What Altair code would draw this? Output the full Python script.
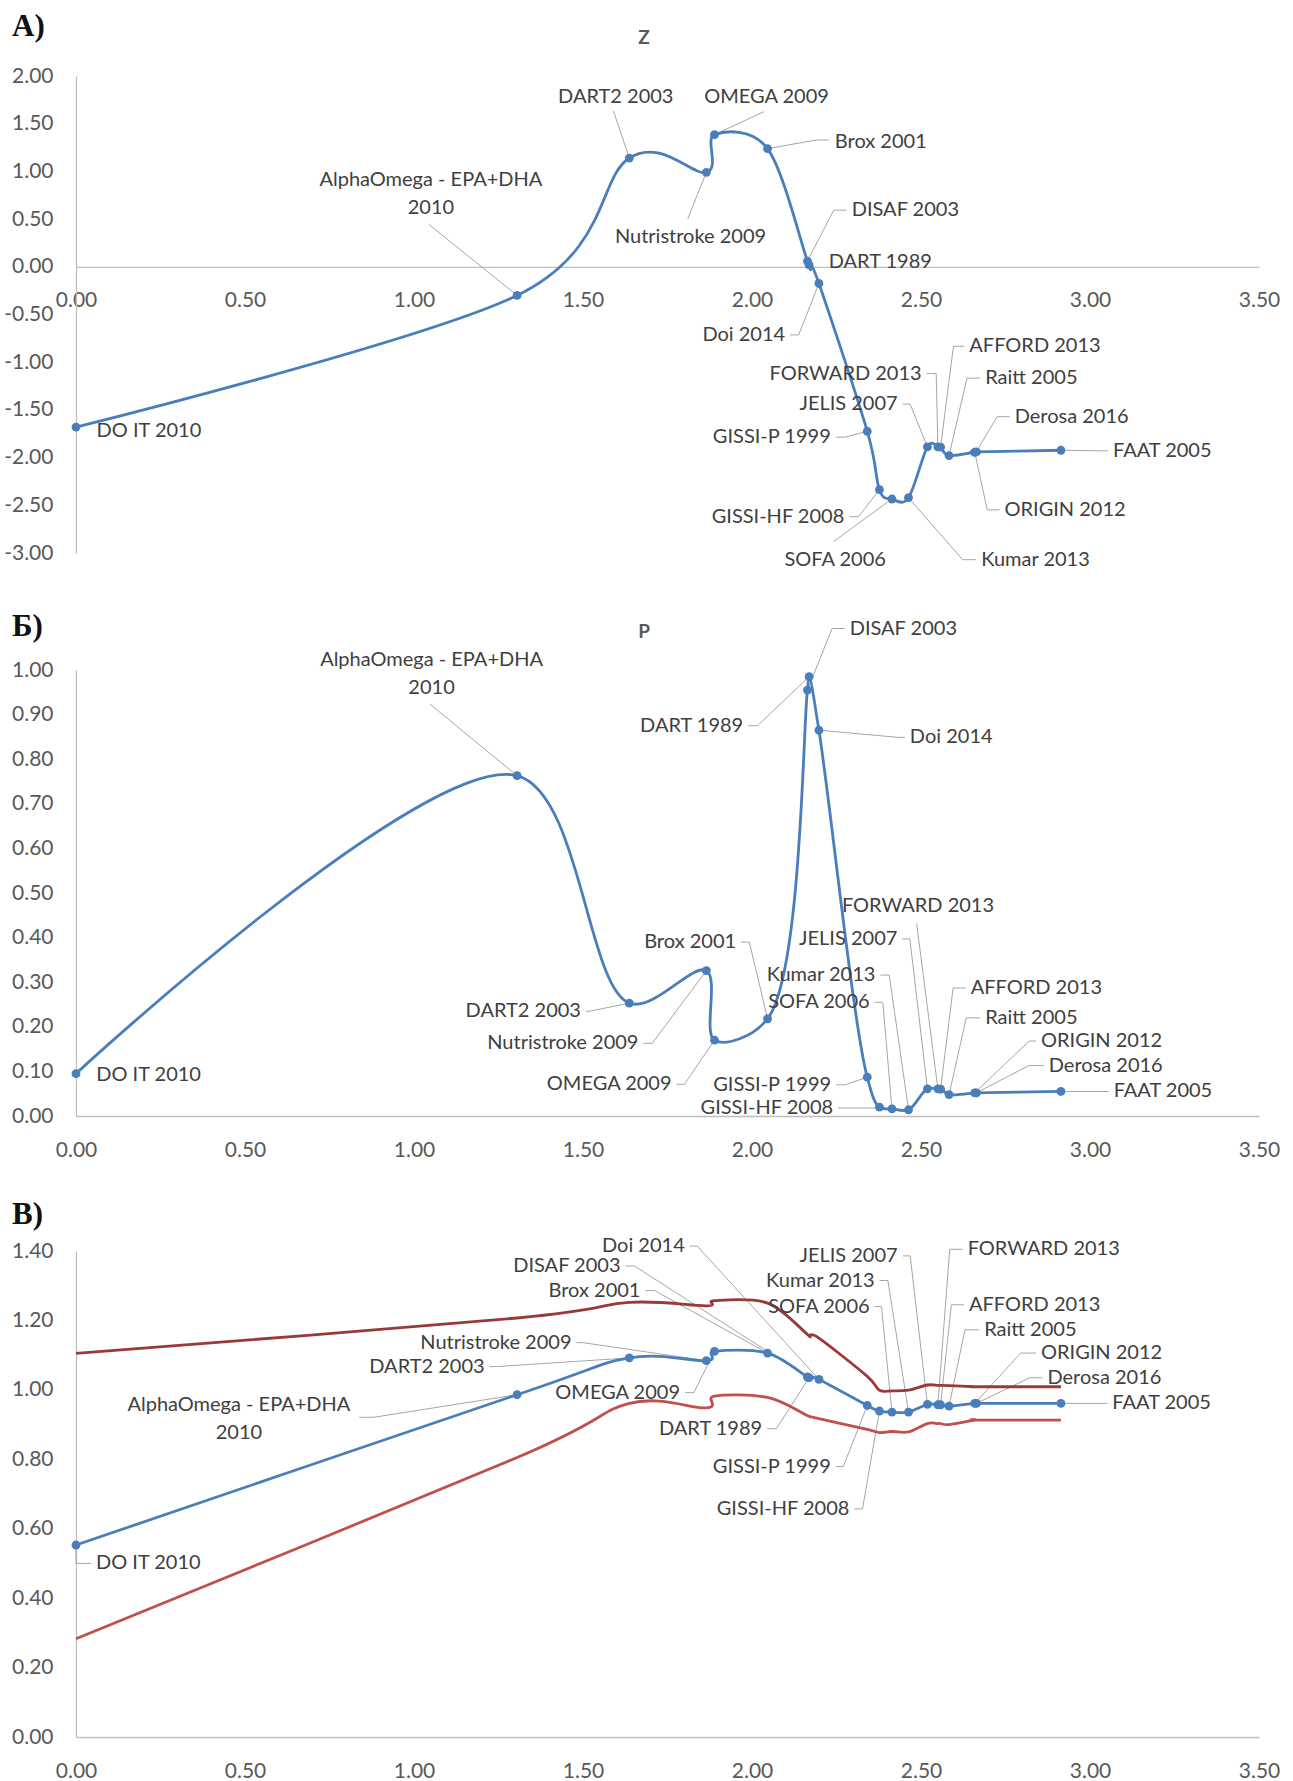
import altair as alt
import pandas as pd

# ---- data -------------------------------------------------------------
studies = [
    "DO IT 2010", "AlphaOmega - EPA+DHA 2010", "DART2 2003", "Nutristroke 2009",
    "OMEGA 2009", "Brox 2001", "DISAF 2003", "DART 1989", "Doi 2014", "GISSI-P 1999",
    "GISSI-HF 2008", "SOFA 2006", "Kumar 2013", "JELIS 2007", "FORWARD 2013",
    "AFFORD 2013", "Raitt 2005", "ORIGIN 2012", "Derosa 2016", "FAAT 2005",
]
x_pos = [0.000, 1.305, 1.637, 1.865, 1.889, 2.046, 2.164, 2.169, 2.198, 2.341,
         2.377, 2.414, 2.463, 2.519, 2.550, 2.558, 2.583, 2.659, 2.664, 2.914]
z_vals = [-1.68, -0.30, 1.14, 0.99, 1.385, 1.238, 0.06, 0.02, -0.175, -1.724,
          -2.336, -2.434, -2.42, -1.888, -1.888, -1.890, -1.979, -1.944, -1.940, -1.923]
p_vals = [0.095, 0.763, 0.253, 0.326, 0.170, 0.218, 0.955, 0.985, 0.865, 0.087,
          0.020, 0.016, 0.014, 0.061, 0.061, 0.060, 0.048, 0.052, 0.052, 0.055]
rr_vals = [0.553, 0.986, 1.092, 1.084, 1.111, 1.106, 1.037, 1.035, 1.030, 0.955,
           0.939, 0.936, 0.936, 0.958, 0.957, 0.957, 0.953, 0.961, 0.961, 0.961]
rr_upper = [1.105, 1.207, 1.252, 1.242, 1.257, 1.250, 1.160, 1.156, 1.149, 1.039,
            0.999, 0.997, 0.999, 1.014, 1.013, 1.013, 1.012, 1.009, 1.009, 1.009]
rr_lower = [0.283, 0.805, 0.961, 0.948, 0.982, 0.978, 0.926, 0.924, 0.917, 0.886,
            0.877, 0.880, 0.879, 0.903, 0.903, 0.903, 0.900, 0.913, 0.913, 0.913]

x_ticks = [0.0, 0.5, 1.0, 1.5, 2.0, 2.5, 3.0, 3.5]
z_ticks = [2.0, 1.5, 1.0, 0.5, 0.0, -0.5, -1.0, -1.5, -2.0, -2.5, -3.0]
p_ticks = [0.0, 0.1, 0.2, 0.3, 0.4, 0.5, 0.6, 0.7, 0.8, 0.9, 1.0]
rr_ticks = [0.0, 0.2, 0.4, 0.6, 0.8, 1.0, 1.2, 1.4]

display_name = {s: s for s in studies}
display_name["AlphaOmega - EPA+DHA 2010"] = "AlphaOmega - EPA+DHA\n2010"

# ---- styling ----------------------------------------------------------
FONT = "Lato"
BLUE = "#4A7EBB"
DARK_RED = "#983A37"
RED = "#C0504D"
AXIS_GRAY = "#BFBFBF"
LEADER = "#A6A6A6"
LABEL_COLOR = "#404040"
TICK_COLOR = "#595959"
W = 1183
PX_PER_X = W / 3.5
GAP = 5 / PX_PER_X
LINE_H = 28
NUM_FMT = "(datum.value < 0 ? '-' : '') + format(abs(datum.value), '.2f')"
XSCALE = alt.Scale(domain=[0, 3.5], nice=False, zero=False)


# data-label helpers: text anchor, alignment and leader elbow
def L(study, lx, ly, ax=None):
    return (study, lx, ly, "left", ax, ly, None if ax is None else lx - GAP)


def R(study, lx, ly, ax=None):
    return (study, lx, ly, "right", ax, ly, None if ax is None else lx + GAP)


def C(study, lx, ly, ax=None, ay=None, sx=None):
    return (study, lx, ly, "center", ax, ay, sx)


def label_tables(specs, ref_vals, px_per_y):
    texts, leads = [], []
    dy = LINE_H / px_per_y
    for study, lx, ly, align, ax, ay, sx in specs:
        k = studies.index(study)
        px, py = x_pos[k], ref_vals[k]
        lines = display_name[study].split("\n")
        n = len(lines)
        for j, line in enumerate(lines):
            texts.append({"t": line, "x": lx, "y": ly + ((n - 1) / 2 - j) * dy, "a": align})
        if ax is not None:
            leads.append({"x": px, "y": py, "x2": ax, "y2": ay})
            if sx is not None:
                leads.append({"x": ax, "y": ay, "x2": sx, "y2": ay})
    return pd.DataFrame(texts), pd.DataFrame(leads)


def panel(series, ref_vals, ydom, yticks, cell_h, plot_top, specs, letter, letter_y,
          title=None, title_y=None, x_axis_offset=0, curve="cardinal"):
    yscale = alt.Scale(domain=ydom, range=[cell_h, plot_top], nice=False, zero=False)
    px_per_y = (cell_h - plot_top) / (ydom[1] - ydom[0])
    texts, leads = label_tables(specs, ref_vals, px_per_y)

    x_axis = alt.Axis(values=x_ticks, labelExpr=NUM_FMT, ticks=False, grid=False,
                      domainColor=AXIS_GRAY, domainWidth=1.3, labelFont=FONT,
                      labelFontSize=21, labelColor=TICK_COLOR, labelPadding=23,
                      labelFlush=False, labelOverlap=False, offset=x_axis_offset, title=None)
    y_axis = alt.Axis(values=yticks, labelExpr=NUM_FMT, ticks=False, grid=False,
                      domainColor=AXIS_GRAY, domainWidth=1.3, labelFont=FONT,
                      labelFontSize=21, labelColor=TICK_COLOR, labelPadding=23,
                      labelFlush=False, labelOverlap=False, title=None)

    def X(field="x"):
        return alt.X(f"{field}:Q", scale=XSCALE, axis=x_axis)

    def Y(field="y"):
        return alt.Y(f"{field}:Q", scale=yscale, axis=y_axis)

    layers = [
        alt.Chart(leads).mark_rule(color=LEADER, strokeWidth=1).encode(
            x=X(), y=Y(), x2="x2:Q", y2="y2:Q",
        )
    ]
    for vals, color, with_points in series:
        df = pd.DataFrame({"i": list(range(len(x_pos))), "x": x_pos, "y": vals})
        base = alt.Chart(df).encode(x=X(), y=Y())
        line_kw = {"tension": 0} if curve == "cardinal" else {}
        layers.append(base.mark_line(interpolate=curve, color=color, strokeWidth=2.8,
                                     **line_kw).encode(order="i:Q"))
        if with_points:
            layers.append(base.mark_circle(size=78, color=color, opacity=1))

    for a in ("left", "right", "center"):
        sub = texts[texts["a"] == a]
        if len(sub):
            layers.append(
                alt.Chart(sub).mark_text(align=a, baseline="middle", font=FONT,
                                         fontSize=20, color=LABEL_COLOR).encode(
                    x=X(), y=Y(), text="t:N",
                )
            )

    layers.append(
        alt.Chart(pd.DataFrame({"t": [letter]})).mark_text(
            align="left", baseline="alphabetic", font="Liberation Serif",
            fontSize=31, fontWeight="bold", color="#111111",
        ).encode(x=alt.value(-64), y=alt.value(letter_y), text="t:N")
    )
    if title:
        layers.append(
            alt.Chart(pd.DataFrame({"t": [title]})).mark_text(
                align="center", baseline="middle", font=FONT, fontSize=19,
                fontWeight="bold", color=TICK_COLOR,
            ).encode(x=alt.value(568), y=alt.value(title_y), text="t:N")
        )
    return alt.layer(*layers).properties(width=W, height=cell_h)


# ---- A) Z ---------------------------------------------------------------
specs_z = [
    L("DO IT 2010", 0.061, -1.72),
    C("AlphaOmega - EPA+DHA 2010", 1.050, 0.761, 1.044, 0.444),
    C("DART2 2003", 1.597, 1.783, 1.590, 1.634),
    C("OMEGA 2009", 2.043, 1.783, 2.035, 1.626),
    ("Brox 2001", 2.245, 1.308, "left", 2.19, 1.329, 2.228),
    C("Nutristroke 2009", 1.818, 0.311, 1.810, 0.503),
    L("DISAF 2003", 2.295, 0.594, 2.242),
    L("DART 1989", 2.227, 0.049),
    R("Doi 2014", 2.098, -0.714, 2.138),
    R("FORWARD 2013", 2.502, -1.119, 2.545),
    L("AFFORD 2013", 2.643, -0.833, 2.596),
    L("Raitt 2005", 2.690, -1.167, 2.636),
    R("JELIS 2007", 2.431, -1.44, 2.468),
    L("Derosa 2016", 2.777, -1.571, 2.725),
    R("GISSI-P 1999", 2.233, -1.786, 2.275),
    L("FAAT 2005", 3.068, -1.929, 3.04),
    L("ORIGIN 2012", 2.747, -2.548, 2.696),
    R("GISSI-HF 2008", 2.273, -2.619, 2.315),
    C("SOFA 2006", 2.246, -3.07, 2.242, -2.878),
    L("Kumar 2013", 2.678, -3.07, 2.623),
]

# ---- Б) P ---------------------------------------------------------------
specs_p = [
    L("DO IT 2010", 0.06, 0.092),
    C("AlphaOmega - EPA+DHA 2010", 1.052, 0.991, 1.048, 0.923),
    L("DISAF 2003", 2.289, 1.093, 2.237),
    R("DART 1989", 1.974, 0.875, 2.016),
    L("Doi 2014", 2.467, 0.849, 2.432),
    C("FORWARD 2013", 2.491, 0.471, 2.487, 0.432),
    R("Brox 2001", 1.953, 0.390, 1.992),
    R("JELIS 2007", 2.430, 0.397, 2.467),
    R("Kumar 2013", 2.365, 0.316, 2.406),
    L("AFFORD 2013", 2.647, 0.287, 2.595),
    R("SOFA 2006", 2.348, 0.255, 2.387),
    R("DART2 2003", 1.494, 0.235, 1.52),
    L("Raitt 2005", 2.690, 0.220, 2.634),
    L("ORIGIN 2012", 2.855, 0.168, 2.82),
    R("Nutristroke 2009", 1.664, 0.163, 1.705),
    L("Derosa 2016", 2.878, 0.113, 2.819),
    R("OMEGA 2009", 1.762, 0.071, 1.80),
    R("GISSI-P 1999", 2.234, 0.070, 2.276),
    L("FAAT 2005", 3.070, 0.055, 3.04),
    R("GISSI-HF 2008", 2.240, 0.018, 2.36),
]

# ---- В) RR with confidence bounds --------------------------------------
specs_rr = [
    L("DO IT 2010", 0.059, 0.50, 0.0),
    C("AlphaOmega - EPA+DHA 2010", 0.482, 0.916, 0.881, 0.921, 0.838),
    R("Doi 2014", 1.801, 1.414, 1.838),
    R("DISAF 2003", 1.611, 1.357, 1.652),
    R("Brox 2001", 1.670, 1.286, 1.712),
    R("JELIS 2007", 2.431, 1.386, 2.468),
    L("FORWARD 2013", 2.638, 1.405, 2.585),
    R("Kumar 2013", 2.363, 1.315, 2.402),
    L("AFFORD 2013", 2.642, 1.245, 2.590),
    R("SOFA 2006", 2.348, 1.240, 2.383),
    L("Raitt 2005", 2.687, 1.173, 2.630),
    R("Nutristroke 2009", 1.466, 1.136, 1.50),
    L("ORIGIN 2012", 2.855, 1.106, 2.795),
    R("DART2 2003", 1.209, 1.067, 1.243),
    L("Derosa 2016", 2.874, 1.035, 2.822),
    R("OMEGA 2009", 1.787, 0.992, 1.828),
    L("FAAT 2005", 3.066, 0.961, 3.035),
    R("DART 1989", 2.030, 0.888, 2.072),
    R("GISSI-P 1999", 2.233, 0.779, 2.27),
    R("GISSI-HF 2008", 2.288, 0.657, 2.327),
]

z_cell_h, z_top = 553, 76
z_offset = -(z_cell_h - z_top) * (0 - (-3.0)) / 5.0

panel_z = panel([(z_vals, BLUE, True)], z_vals, [-3.0, 2.0], z_ticks, z_cell_h, z_top,
                specs_z, "A)", 36, title="Z", title_y=38, x_axis_offset=z_offset)
panel_p = panel([(p_vals, BLUE, True)], p_vals, [0.0, 1.0], p_ticks, 563, 117,
                specs_p, "Б)", 83, title="P", title_y=79, curve="catmull-rom")
panel_rr = panel([(rr_upper, DARK_RED, False), (rr_lower, RED, False), (rr_vals, BLUE, True)],
                 rr_vals, [0.0, 1.4], rr_ticks, 621, 135, specs_rr, "В)", 108)

chart = alt.vconcat(panel_z, panel_p, panel_rr, spacing=0, bounds="flush").properties(
    padding={"left": 3, "top": 0, "right": 0, "bottom": 0}
).configure_view(stroke=None)

chart.save("out.html", embed_options={"renderer": "svg", "actions": False})
